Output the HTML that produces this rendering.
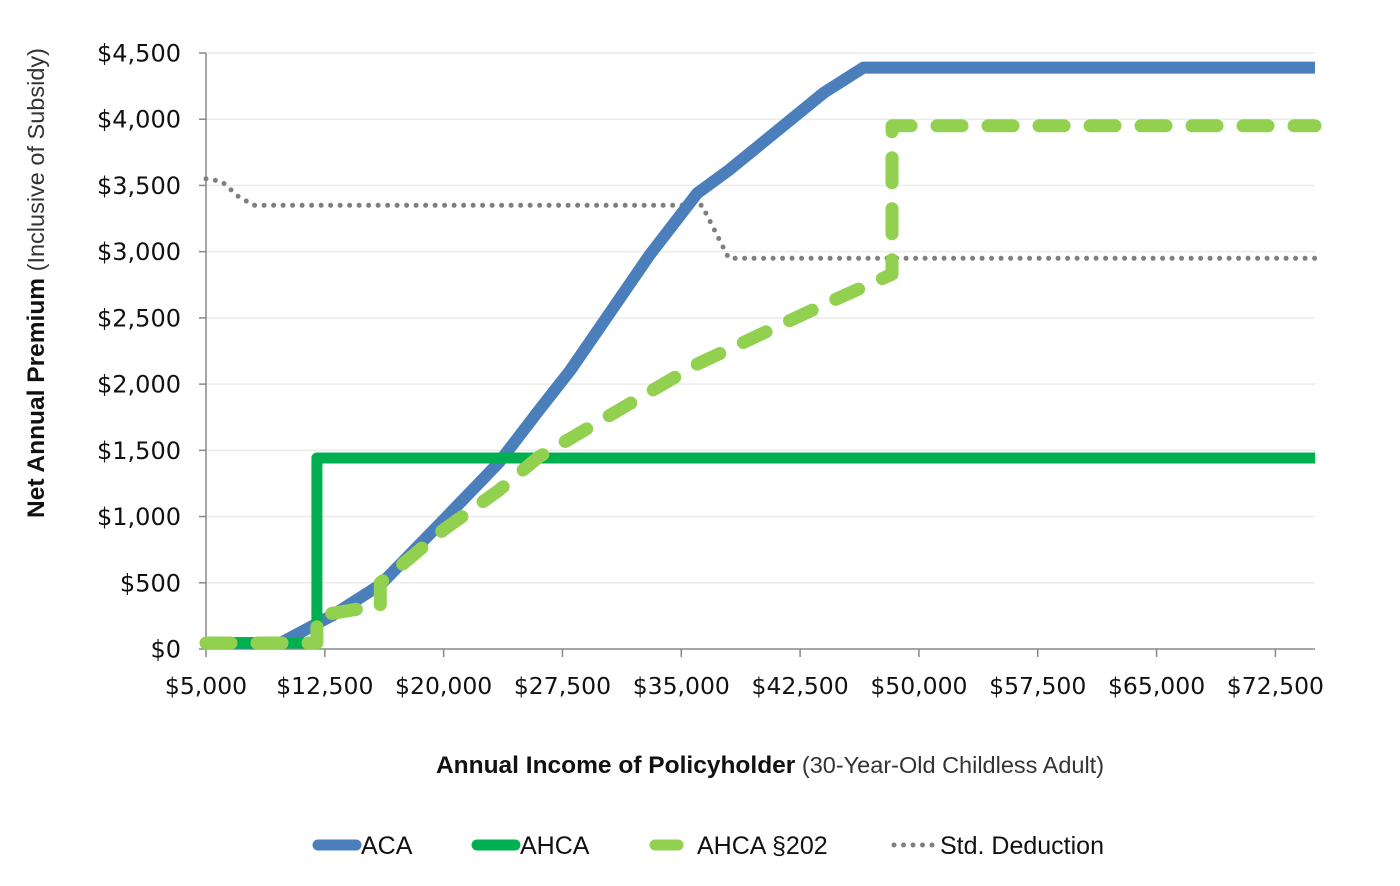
<!DOCTYPE html>
<html><head><meta charset="utf-8"><style>
html,body{margin:0;padding:0;background:#fff;}
svg text{font-family:"DejaVu Sans","Liberation Sans",sans-serif;}
.t{font-family:"Liberation Sans",sans-serif !important;}
</style></head><body>
<svg id="chart" width="1400" height="881" xmlns="http://www.w3.org/2000/svg">
<g id="grid"></g>
<g id="axes"></g>
<g id="series"></g>
<text class="t" transform="translate(44,283) rotate(-90)" text-anchor="middle" font-size="24.5" fill="#111"><tspan font-weight="bold">Net Annual Premium</tspan><tspan font-size="23.5" fill="#333"> (Inclusive of Subsidy)</tspan></text>
<text class="t" x="770" y="773" text-anchor="middle" font-size="24.5" fill="#111"><tspan font-weight="bold">Annual Income of Policyholder</tspan><tspan font-size="23.5" fill="#333"> (30-Year-Old Childless Adult)</tspan></text>
<g>
<g><line x1="318" y1="845" x2="356" y2="845" stroke="#4b7fbb" stroke-width="11" stroke-linecap="round"/><text class="t" x="361" y="854" font-size="25" fill="#111">ACA</text></g>
<g><line x1="477" y1="845" x2="515" y2="845" stroke="#00b050" stroke-width="11" stroke-linecap="round"/><text class="t" x="520" y="854" font-size="25" fill="#111">AHCA</text></g>
<g><line x1="655" y1="845" x2="678" y2="845" stroke="#92d050" stroke-width="11" stroke-linecap="round"/><text class="t" x="697" y="854" font-size="25" fill="#111">AHCA §202</text></g>
<g><line x1="894" y1="845" x2="934" y2="845" stroke="#7f7f7f" stroke-width="5" stroke-linecap="round" stroke-dasharray="0 9.5"/><text class="t" x="940" y="854" font-size="25" fill="#111">Std. Deduction</text></g>
</g>
</svg>
<script>
const xTicks=[5000,12500,20000,27500,35000,42500,50000,57500,65000,72500];
const yTicks=[0,500,1000,1500,2000,2500,3000,3500,4000,4500];
const acaX=[5000,9700,13000,16000,20000,23500,26000,28000,33000,36000,38000,44000,46500,75000];
const acaY=[45,45,255,485,975,1410,1800,2105,2975,3440,3615,4200,4390,4390];
const ahcaX=[5000,12000,12000,75000];
const ahcaY=[45,45,1442,1442];
const s202X=[5000,12000,12000,14500,16000,16000,20000,23500,26000,36000,44000,48300,48300,75000];
const s202Y=[45,45,250,300,320,500,900,1200,1450,2150,2600,2830,3950,3950];
const stdX=[5000,6000,7000,8000,36300,38000,75000];
const stdY=[3550,3530,3420,3350,3350,2950,2950];
const X0=206,X1=1315,Y0=649,Y1=53;
const xs=v=>X0+(v-5000)/(75000-5000)*(X1-X0);
const ys=v=>Y0-(v/4500)*(Y0-Y1);
const NS="http://www.w3.org/2000/svg";
function mk(tag,attrs,parent){const e=document.createElementNS(NS,tag);for(const k in attrs)e.setAttribute(k,attrs[k]);parent.appendChild(e);return e;}
const grid=document.getElementById('grid'),axes=document.getElementById('axes'),series=document.getElementById('series');
yTicks.forEach(v=>{
 if(v>0){const g=mk('line',{x1:X0,x2:X1,y1:ys(v),y2:ys(v),stroke:'#ebebeb','stroke-width':1.5},grid);
 
 }
 const tk=mk('line',{x1:X0-7,x2:X0,y1:ys(v),y2:ys(v),stroke:'#888','stroke-width':1.5},axes);
 
 
 const t=mk('text',{x:181,y:ys(v)+8.5,'text-anchor':'end','font-size':24,fill:'#111'},axes);
 t.textContent='$'+v.toLocaleString('en-US');
 
 
});
xTicks.forEach(v=>{
 const tk=mk('line',{x1:xs(v),x2:xs(v),y1:Y0,y2:Y0+8,stroke:'#888','stroke-width':1.5},axes);
 
 
 const t=mk('text',{x:xs(v),y:694,'text-anchor':'middle','font-size':23.5,fill:'#111'},axes);
 t.textContent='$'+v.toLocaleString('en-US');
 
 
});
const ya=mk('line',{x1:X0,x2:X0,y1:Y1,y2:Y0,stroke:'#888','stroke-width':1.5},axes);


const xa=mk('line',{x1:X0,x2:X1,y1:Y0,y2:Y0,stroke:'#888','stroke-width':1.5},axes);


function pts(X,Y){return X.map((x,i)=>xs(x).toFixed(1)+','+ys(Y[i]).toFixed(1)).join(' ');}
const l1=mk('polyline',{points:pts(stdX,stdY),fill:'none',stroke:'#7f7f7f','stroke-width':5,'stroke-linecap':'round','stroke-dasharray':'0 9.5'},series);


const l2=mk('polyline',{points:pts(acaX,acaY),fill:'none',stroke:'#4b7fbb','stroke-width':12,'stroke-linejoin':'round'},series);


const l3=mk('polyline',{points:pts(ahcaX,ahcaY),fill:'none',stroke:'#00b050','stroke-width':11,'stroke-linejoin':'round'},series);


const l4=mk('polyline',{points:pts(s202X,s202Y),fill:'none',stroke:'#92d050','stroke-width':13,'stroke-linecap':'round','stroke-linejoin':'round','stroke-dasharray':'25 26'},series);


</script>
</body></html>
